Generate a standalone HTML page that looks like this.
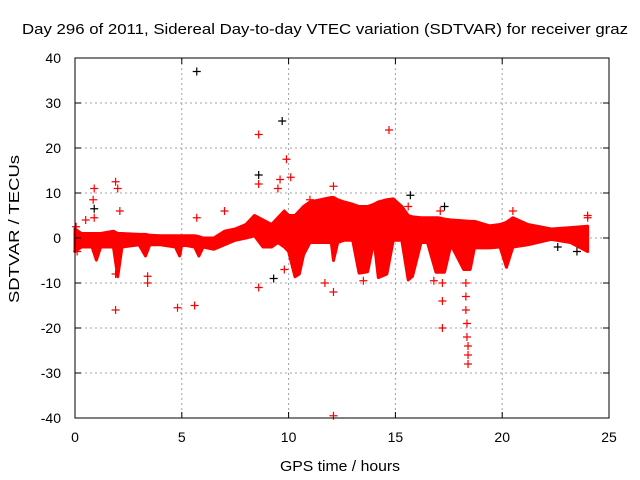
<!DOCTYPE html>
<html><head><meta charset="utf-8"><style>
body{margin:0;background:#fff}
svg{display:block;font-family:"Liberation Sans",sans-serif}
</style></head><body>
<svg id="chart" width="640" height="480">
<text x="325" y="34" font-size="15" text-anchor="middle" textLength="606" lengthAdjust="spacingAndGlyphs">Day 296 of 2011, Sidereal Day-to-day VTEC variation (SDTVAR) for receiver graz</text>
<text x="340" y="471" font-size="15" text-anchor="middle" textLength="120" lengthAdjust="spacingAndGlyphs">GPS time / hours</text>
<text transform="translate(19,229) rotate(-90)" font-size="15" text-anchor="middle" textLength="148" lengthAdjust="spacingAndGlyphs">SDTVAR / TECUs</text>
<g id="grid"></g><g id="marks"></g><g id="frame"></g>
</svg>
<script>
const xTicks=[0,5,10,15,20,25];
const yTicks=[-40,-30,-20,-10,0,10,20,30,40];
const bandT =[0,0.3,0.8,1.0,1.2,1.8,2.0,2.2,3,3.3,3.5,4,4.7,4.9,5,5.6,5.8,6,6.5,7,7.5,8,8.4,8.8,9.2,9.5,9.8,10.0,10.3,10.5,10.7,11,11.5,12,12.1,12.3,12.6,13,13.3,13.7,14,14.2,14.6,14.9,15.3,15.6,15.8,16.2,16.5,16.9,17.0,17.3,17.6,18.2,18.5,18.7,19.4,19.9,20.2,20.5,21.2,22.3,23.2,24];
const bandHi=[2,1,1,1,1,1.5,1,1,0.8,0.8,0.6,0.5,0.5,0.5,0.5,0.5,0.3,0,0,1.5,2,3,5,4,3,4.5,6,5,5,6,7,8,8.5,9,9,8.5,8,7.5,7,7,7.5,8,8.5,8.7,7,5,4.7,4.5,4.5,4.5,4.5,4.2,4,3.8,3.7,3.7,2.7,3,3.5,4.5,3,2,2.3,2.6];
const bandLo=[-3,-2,-2,-4.9,-2,-2,-8.6,-2,-1.5,-4,-1.5,-1.5,-2,-4,-1.5,-2,-4,-2,-2.5,-1.5,-0.5,0,0.5,-2,-2,-1,-2,-3,-8.6,-8,-3.7,-1,-1,-1,-5,-1,-0.5,-0.5,-7.8,-7.5,-0.5,-8.8,-8,-0.5,-0.5,-9.3,-8.5,-1,-1,-7.6,-7.6,-7.6,-1.5,-7,-7,-2.2,-2.2,-2,-6.5,-2,-1.5,-0.3,-1,-3];
const redT=[0.9,0.85,0.9,0.5,1.9,2.0,2.1,1.9,1.9,3.4,3.4,4.8,5.6,5.7,7,8.6,8.6,8.6,9.5,9.6,9.9,10.1,9.8,11,12.1,12.1,12.1,14.7,11.7,13.5,15.6,17.1,17.2,17.2,17.2,16.8,20.5,24,24,18.3,18.3,18.3,18.35,18.35,18.4,18.4,18.4,0.05,0.1,12.1];
const redV=[11,8.5,4.5,4,12.5,11,6,-16,-8,-8.5,-10,-15.5,-15,4.5,6,23,12,-11,11,13,17.5,13.5,-7,8.5,11.5,-12,-39.5,24,-10,-9.5,7,6,-10,-14,-20,-9.5,6,5,4.5,-10,-13,-16,-19,-22,-24,-26,-28,2.5,-3,7];
const blackT=[5.7,9.7,8.6,15.7,17.3,22.6,23.5,9.3,0.9];
const blackV=[37,26,14,9.5,7,-2,-3,-9,6.5];
const X=t=>75+t*(609-75)/25, Y=v=>238-v*4.5;
const NS="http://www.w3.org/2000/svg";
function mk(tag,attrs,parent){const e=document.createElementNS(NS,tag);for(const k in attrs)e.setAttribute(k,attrs[k]);parent.appendChild(e);return e;}
const grid=document.getElementById('grid'),marks=document.getElementById('marks'),frame=document.getElementById('frame');
xTicks.forEach(t=>{
 if(t>0&&t<25){const g=mk('line',{x1:X(t),x2:X(t),y1:58,y2:418,stroke:'#a0a0a0','stroke-dasharray':'2,3'},grid);
 
 }
 mk('line',{x1:X(t),x2:X(t),y1:418,y2:412,stroke:'#000'},frame);
 mk('line',{x1:X(t),x2:X(t),y1:58,y2:64,stroke:'#000'},frame);
 const l=mk('text',{x:X(t),y:442,'font-size':14,'text-anchor':'middle'},frame);l.textContent=t;
 
 
});
yTicks.forEach(v=>{
 if(v>-40&&v<40){const g=mk('line',{x1:75,x2:609,y1:Y(v),y2:Y(v),stroke:'#a0a0a0','stroke-dasharray':'2,3'},grid);
 
 }
 mk('line',{x1:75,x2:81,y1:Y(v),y2:Y(v),stroke:'#000'},frame);
 mk('line',{x1:603,x2:609,y1:Y(v),y2:Y(v),stroke:'#000'},frame);
 const l=mk('text',{x:61,y:Y(v)+5,'font-size':14,'text-anchor':'end'},frame);l.textContent=v;
 
 
});
const fr=mk('rect',{x:75,y:58,width:534,height:360,fill:'none',stroke:'#000'},frame);


let pts=bandT.map((t,i)=>X(t)+','+Y(bandHi[i]));
for(let i=bandT.length-1;i>=0;i--)pts.push(X(bandT[i])+','+Y(bandLo[i]));
const band=mk('polygon',{points:pts.join(' '),fill:'#ff0000',stroke:'#ff0000','stroke-width':3,'stroke-linejoin':'round'},marks);


function plus(t,v,c){const x=X(t),y=Y(v);
 const p=mk('path',{d:`M${x-4},${y}H${x+4}M${x},${y-4}V${y+4}`,stroke:c,'stroke-width':1.2,fill:'none'},marks);
 
 }
blackT.forEach((t,i)=>plus(t,blackV[i],'#000'));
redT.forEach((t,i)=>plus(t,redV[i],'#ff0000'));
</script>
</body></html>
